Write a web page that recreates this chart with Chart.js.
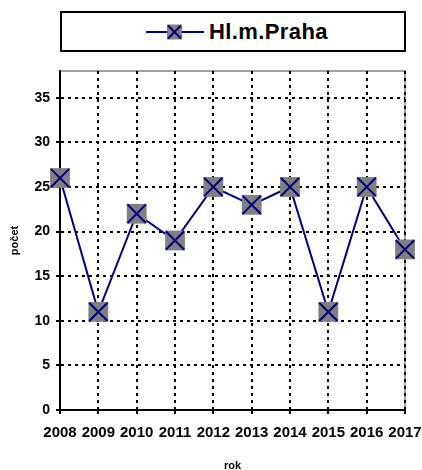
<!DOCTYPE html>
<html>
<head>
<meta charset="utf-8">
<script src="https://cdn.jsdelivr.net/npm/chart.js@4/dist/chart.umd.min.js"></script>
<style>
  html, body { margin: 0; padding: 0; background: #fff; }
  #wrap { position: relative; width: 422px; height: 470px; }
  #graf { position: absolute; left: 0; top: 0; }
  #legenda {
    position: absolute; left: 60px; top: 11px; width: 346px; height: 41px;
    box-sizing: border-box; border: 2px solid #000; background: #fff;
    font-family: "Liberation Sans", Arial, sans-serif; font-weight: bold;
    font-size: 22px; color: #000;
  }
  #legenda svg { position: absolute; left: 84px; top: 11px; }
  #legenda span { position: absolute; left: 147px; top: 6px; letter-spacing: 0.4px; }
</style>
</head>
<body>
<div id="wrap">
  <canvas id="graf" width="422" height="470"></canvas>
  <div id="legenda">
    <svg width="58" height="16" viewBox="0 0 58 16">
      <line x1="0" y1="8" x2="58" y2="8" stroke="#000080" stroke-width="2"/>
      <rect x="21" y="0.5" width="15" height="15" fill="#808080"/>
      <line x1="22" y1="1.5" x2="35" y2="14.5" stroke="#000080" stroke-width="2"/>
      <line x1="35" y1="1.5" x2="22" y2="14.5" stroke="#000080" stroke-width="2"/>
    </svg>
    <span>Hl.m.Praha</span>
  </div>
</div>
<script>
  // data
  var roky = ["2008", "2009", "2010", "2011", "2012", "2013", "2014", "2015", "2016", "2017"];
  var pocty = [26, 11, 22, 19, 25, 23, 25, 11, 25, 18];
  var yMax = 38;
  var yKrok = 5;

  var pismo = "'Liberation Sans', Arial, sans-serif";

  // sedy ramecek nahore a vpravo (pod mrizkou)
  var ramecek = {
    id: "ramecek",
    beforeDraw: function (chart) {
      var a = chart.chartArea;
      var ctx = chart.ctx;
      ctx.save();
      ctx.strokeStyle = "#a0a0a0";
      ctx.lineWidth = 2;
      ctx.beginPath();
      ctx.moveTo(a.left, a.top);
      ctx.lineTo(a.right, a.top);
      ctx.lineTo(a.right, a.bottom);
      ctx.stroke();
      ctx.restore();
    }
  };

  new Chart(document.getElementById("graf"), {
    type: "line",
    data: {
      labels: roky,
      datasets: [{
        label: "Hl.m.Praha x",
        data: pocty,
        showLine: false,
        pointStyle: "crossRot",
        pointRadius: 13,
        pointHoverRadius: 13,
        pointBorderColor: "#000080",
        pointBorderWidth: 2,
        clip: false
      }, {
        label: "Hl.m.Praha",
        data: pocty,
        borderColor: "#000080",
        borderWidth: 2,
        tension: 0,
        pointStyle: "rect",
        pointRadius: 14,
        pointHoverRadius: 14,
        pointBackgroundColor: "#808080",
        pointBorderWidth: 0,
        clip: false
      }]
    },
    options: {
      responsive: false,
      animation: false,
      events: [],
      layout: { padding: { top: 71, right: 17, bottom: 0, left: 0 } },
      plugins: {
        legend: { display: false },
        tooltip: { enabled: false }
      },
      scales: {
        x: {
          offset: false,
          afterFit: function (s) {
            s.height = 60;
            s.paddingLeft = 0;
            s.paddingRight = 0;
          },
          grid: {
            color: "#000",
            lineWidth: 2,
            tickLength: 4,
            tickBorderDash: [],
            tickWidth: 2
          },
          border: { display: true, color: "#000", width: 2, dash: [3, 4] },
          ticks: {
            autoSkip: false,
            maxRotation: 0,
            padding: 10,
            color: "#000",
            font: { family: pismo, size: 15, weight: "bold" }
          },
          title: {
            display: true,
            text: "rok",
            color: "#000",
            padding: { top: 0, bottom: -3 },
            font: { family: pismo, size: 11, weight: "bold" }
          }
        },
        y: {
          min: 0,
          max: yMax,
          afterFit: function (s) { s.width = 60; },
          afterBuildTicks: function (s) {
            s.ticks = s.ticks.filter(function (t) { return t.value % yKrok === 0; });
          },
          grid: {
            color: "#000",
            lineWidth: 2,
            tickLength: 4,
            tickBorderDash: [],
            tickWidth: 2
          },
          border: { display: true, color: "#000", width: 2, dash: [3, 4] },
          ticks: {
            stepSize: yKrok,
            padding: 6,
            color: "#000",
            font: { family: pismo, size: 14, weight: "bold" }
          },
          title: {
            display: true,
            text: "počet",
            color: "#000",
            padding: { top: 8, bottom: 0 },
            font: { family: pismo, size: 11, weight: "bold" }
          }
        }
      }
    },
    plugins: [ramecek]
  });
</script>
</body>
</html>
